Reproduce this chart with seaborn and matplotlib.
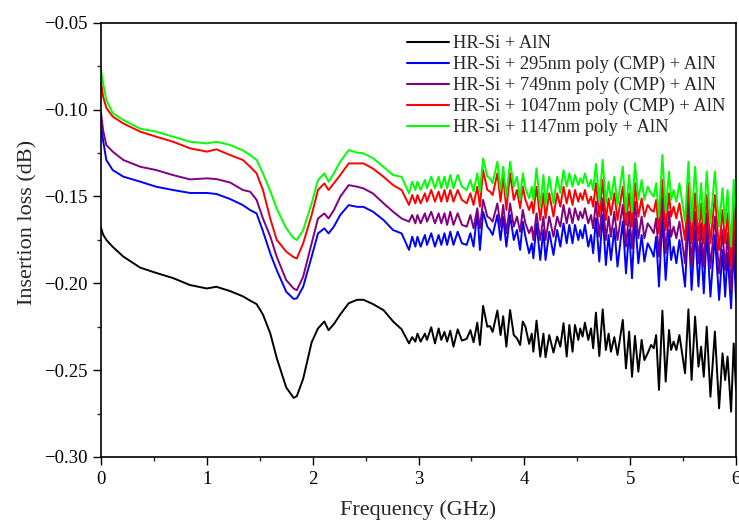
import numpy as np
import pandas as pd
import matplotlib
matplotlib.use("Agg")
import matplotlib.pyplot as plt
from matplotlib.ticker import MultipleLocator
import seaborn as sns

# Frequency samples (GHz)
freq = [0.0, 0.02, 0.05, 0.11, 0.21, 0.37, 0.52, 0.68, 0.84, 1.0, 1.09, 1.22, 1.34, 1.41, 1.47,
        1.53, 1.6, 1.66, 1.75, 1.82, 1.85, 1.91, 1.99, 2.05, 2.11, 2.15, 2.2, 2.26, 2.34, 2.42,
        2.48, 2.57, 2.67, 2.76, 2.84,
        2.91, 2.94, 2.97, 2.99, 3.02, 3.06, 3.08, 3.12, 3.155, 3.19, 3.215, 3.245, 3.27, 3.30,
        3.33, 3.37, 3.41, 3.455, 3.49, 3.52, 3.555, 3.58, 3.61, 3.65, 3.675, 3.70, 3.745, 3.775,
        3.80, 3.83, 3.865, 3.90, 3.93, 3.96, 3.985, 4.01, 4.045, 4.07, 4.085, 4.115, 4.15, 4.18,
        4.20, 4.235, 4.275, 4.31, 4.34,
        4.37, 4.40, 4.425, 4.455, 4.478, 4.51, 4.528, 4.55, 4.572, 4.604, 4.63, 4.65, 4.676,
        4.708, 4.74, 4.77, 4.796, 4.818, 4.85, 4.88, 4.93, 4.96, 4.99, 5.017, 5.045, 5.077,
        5.108, 5.134, 5.165, 5.197, 5.222, 5.245, 5.272, 5.304, 5.335, 5.367, 5.386, 5.41,
        5.436, 5.465, 5.518, 5.55, 5.58, 5.613, 5.645, 5.67, 5.695, 5.723, 5.758, 5.80, 5.84,
        5.872, 5.897, 5.92, 5.953, 5.978, 6.0]

il_black = [-0.168, -0.172, -0.175, -0.179, -0.1846, -0.191, -0.194, -0.197, -0.201, -0.203,
            -0.202, -0.2045, -0.2075, -0.210, -0.212, -0.218, -0.229, -0.243, -0.260, -0.266,
            -0.265, -0.255, -0.234, -0.226, -0.222, -0.227, -0.2235, -0.218, -0.2115, -0.2095,
            -0.2095, -0.212, -0.2155, -0.222, -0.2265,
            -0.2346, -0.231, -0.2336, -0.229, -0.2336, -0.229, -0.2326, -0.2253, -0.2346, -0.226,
            -0.2326, -0.228, -0.2336, -0.2273, -0.2365, -0.2265, -0.233, -0.232, -0.227, -0.234,
            -0.2227, -0.2355, -0.213, -0.225, -0.2246, -0.228, -0.2157, -0.2298, -0.219, -0.2365,
            -0.2154, -0.2298, -0.2317, -0.2355, -0.222, -0.225, -0.2349, -0.229, -0.2394, -0.2215,
            -0.2422, -0.229, -0.2426, -0.2298, -0.2399, -0.2307, -0.2365,
            -0.223, -0.2422, -0.224, -0.2394, -0.224, -0.2326, -0.226, -0.2307, -0.2227, -0.2326,
            -0.226, -0.2374, -0.2169, -0.2419, -0.215, -0.2384, -0.229, -0.2394, -0.231, -0.2413,
            -0.2211, -0.249, -0.2278, -0.2538, -0.2303, -0.2509, -0.2326, -0.2442, -0.2403,
            -0.2355, -0.2374, -0.2298, -0.2614, -0.2158, -0.2566, -0.2269, -0.2384, -0.2336,
            -0.2384, -0.2298, -0.2518, -0.215, -0.2557, -0.2192, -0.248, -0.2365, -0.2538, -0.225,
            -0.2653, -0.2278, -0.272, -0.2403, -0.2557, -0.2422, -0.2739, -0.2346, -0.2614]

il_295 = [-0.1089, -0.118, -0.129, -0.1348, -0.1386, -0.1415, -0.1444, -0.1463, -0.148, -0.148,
          -0.1486, -0.1515, -0.155, -0.1579, -0.1598, -0.170, -0.183, -0.1924, -0.2049, -0.209,
          -0.2087, -0.202, -0.1847, -0.1713, -0.1684, -0.1713, -0.1674, -0.1607, -0.155, -0.156,
          -0.156, -0.1588, -0.1636, -0.1694, -0.1713,
          -0.1808, -0.1732, -0.1789, -0.1732, -0.1789, -0.1722, -0.1779, -0.1712, -0.1789, -0.1722,
          -0.1779, -0.1712, -0.1779, -0.1703, -0.1779, -0.1703, -0.177, -0.1779, -0.1712, -0.1789,
          -0.1588, -0.1808, -0.1588, -0.1674, -0.1693, -0.1722, -0.1607, -0.1751, -0.1616, -0.1789,
          -0.1607, -0.1751, -0.1693, -0.1808, -0.1645, -0.1732, -0.1827, -0.177, -0.1856, -0.1655,
          -0.1866, -0.1693, -0.1866, -0.1703, -0.1837, -0.1693, -0.1789,
          -0.1655, -0.177, -0.1664, -0.177, -0.1664, -0.1751, -0.1693, -0.1741, -0.1664, -0.1789,
          -0.1722, -0.1827, -0.1626, -0.1875, -0.1607, -0.1895, -0.1722, -0.1866, -0.1684, -0.1904,
          -0.1645, -0.1943, -0.1693, -0.1971, -0.1626, -0.1885, -0.1722, -0.1875, -0.177,
          -0.1808, -0.1847, -0.1732, -0.2019, -0.1616, -0.1981, -0.1693, -0.1866, -0.1789,
          -0.1885, -0.1751, -0.2019, -0.1626, -0.2039, -0.1693, -0.2019, -0.177, -0.2058, -0.1703,
          -0.2077, -0.1722, -0.2096, -0.1808, -0.2077, -0.1827, -0.2144, -0.1789, -0.2096]

il_749 = [-0.102, -0.112, -0.1204, -0.1242, -0.129, -0.1329, -0.1348, -0.1377, -0.1402, -0.1396,
          -0.140, -0.142, -0.1463, -0.1473, -0.152, -0.1627, -0.1732, -0.1847, -0.1982, -0.203,
          -0.204, -0.1962, -0.177, -0.1627, -0.1598, -0.1627, -0.1579, -0.1502, -0.1435, -0.1444,
          -0.1454, -0.1483, -0.154, -0.1588, -0.1627,
          -0.1645, -0.1607, -0.1655, -0.1607, -0.1655, -0.1597, -0.1645, -0.1588, -0.1655, -0.1597,
          -0.1655, -0.1597, -0.1664, -0.1588, -0.1664, -0.1597, -0.1664, -0.1674, -0.1607, -0.1684,
          -0.1568, -0.1684, -0.152, -0.1616, -0.1626, -0.1645, -0.154, -0.1674, -0.1549, -0.1712,
          -0.154, -0.1674, -0.1616, -0.1703, -0.1578, -0.1655, -0.1712, -0.1674, -0.1751, -0.1597,
          -0.1751, -0.1616, -0.1751, -0.1616, -0.1732, -0.1616, -0.1674,
          -0.1549, -0.1655, -0.1568, -0.1655, -0.1568, -0.1636, -0.1588, -0.1626, -0.1568, -0.1655,
          -0.1607, -0.1684, -0.153, -0.1732, -0.1511, -0.1751, -0.1616, -0.1732, -0.1588, -0.1751,
          -0.1549, -0.1789, -0.1588, -0.1799, -0.153, -0.1741, -0.1616, -0.1741, -0.1655,
          -0.1684, -0.1712, -0.1626, -0.1847, -0.1511, -0.1827, -0.1588, -0.1732, -0.1674,
          -0.1741, -0.1645, -0.1885, -0.153, -0.1904, -0.1588, -0.1885, -0.1655, -0.1904, -0.1597,
          -0.1914, -0.1616, -0.1943, -0.1693, -0.1924, -0.1712, -0.2039, -0.1674, -0.1943]

il_1047 = [-0.084, -0.0926, -0.099, -0.104, -0.108, -0.1127, -0.1156, -0.1185, -0.1223, -0.1242,
           -0.1229, -0.1262, -0.129, -0.133, -0.1367, -0.1463, -0.163, -0.175, -0.1818, -0.185,
           -0.1857, -0.177, -0.1607, -0.1463, -0.1425, -0.1463, -0.1425, -0.1377, -0.131, -0.131,
           -0.131, -0.134, -0.1387, -0.1435, -0.1463,
           -0.1549, -0.1492, -0.154, -0.1492, -0.154, -0.1482, -0.153, -0.1463, -0.153, -0.1472,
           -0.153, -0.1463, -0.153, -0.1463, -0.153, -0.1463, -0.152, -0.154, -0.1482, -0.1549,
           -0.1444, -0.1559, -0.1348, -0.1463, -0.1472, -0.1492, -0.1367, -0.153, -0.1386, -0.1578,
           -0.1367, -0.152, -0.1463, -0.1568, -0.1444, -0.152, -0.1578, -0.153, -0.1597, -0.1444,
           -0.1636, -0.1482, -0.1626, -0.1482, -0.1616, -0.1482, -0.1559,
           -0.1444, -0.154, -0.1463, -0.1549, -0.1463, -0.153, -0.1482, -0.152, -0.1463, -0.154,
           -0.1501, -0.1559, -0.1424, -0.1616, -0.1405, -0.1636, -0.1511, -0.1607, -0.1482, -0.1636,
           -0.1444, -0.1664, -0.1482, -0.1674, -0.1424, -0.1616, -0.1511, -0.1616, -0.1549,
           -0.1578, -0.1588, -0.152, -0.1712, -0.1405, -0.1693, -0.1482, -0.1616, -0.1559,
           -0.1626, -0.154, -0.1751, -0.1424, -0.177, -0.1482, -0.1751, -0.154, -0.177, -0.1492,
           -0.177, -0.1492, -0.1808, -0.1578, -0.177, -0.1597, -0.1904, -0.154, -0.1808]

il_1147 = [-0.0772, -0.085, -0.0945, -0.102, -0.106, -0.111, -0.1127, -0.1156, -0.1185, -0.1195,
           -0.1185, -0.1204, -0.1235, -0.1262, -0.129, -0.1367, -0.147, -0.157, -0.1684, -0.174,
           -0.1751, -0.1694, -0.154, -0.1406, -0.1367, -0.1415, -0.1367, -0.130, -0.1233, -0.1248,
           -0.1252, -0.128, -0.133, -0.1377, -0.1387,
           -0.1482, -0.1415, -0.1463, -0.1415, -0.1463, -0.1405, -0.1453, -0.1386, -0.1453, -0.1386,
           -0.1453, -0.1386, -0.1453, -0.1376, -0.1453, -0.1376, -0.1444, -0.1463, -0.1405, -0.1472,
           -0.1367, -0.1472, -0.1281, -0.1386, -0.1396, -0.1424, -0.130, -0.1463, -0.1329, -0.1501,
           -0.130, -0.1444, -0.1386, -0.152, -0.1367, -0.1453, -0.1511, -0.1444, -0.152, -0.1338,
           -0.1559, -0.1376, -0.1549, -0.1386, -0.154, -0.1386, -0.1482,
           -0.1348, -0.1444, -0.1367, -0.1444, -0.1376, -0.1434, -0.1396, -0.1424, -0.1367, -0.1444,
           -0.1405, -0.1463, -0.1313, -0.153, -0.129, -0.154, -0.1415, -0.152, -0.1386, -0.1549,
           -0.1329, -0.1588, -0.1376, -0.1588, -0.1309, -0.152, -0.1405, -0.152, -0.1444,
           -0.1482, -0.1501, -0.1424, -0.1616, -0.1261, -0.1588, -0.1357, -0.152, -0.1463,
           -0.153, -0.1424, -0.1645, -0.130, -0.1645, -0.1329, -0.1636, -0.1424, -0.1655, -0.1357,
           -0.1655, -0.1357, -0.1674, -0.1453, -0.1655, -0.1463, -0.1789, -0.1405, -0.1655]

labels = ["HR-Si + AlN",
          "HR-Si + 295nm poly (CMP) + AlN",
          "HR-Si + 749nm poly (CMP) + AlN",
          "HR-Si + 1047nm poly (CMP) + AlN",
          "HR-Si + 1147nm poly + AlN"]
colors = ["#000000", "#0000FF", "#800080", "#FF0000", "#00FF00"]
series = [il_black, il_295, il_749, il_1047, il_1147]

frames = []
for lab, vals in zip(labels, series):
    frames.append(pd.DataFrame({"freq": freq, "il": vals, "sample": lab}))
df = pd.concat(frames, ignore_index=True)

sns.set_theme(style="ticks")
plt.rcParams["font.family"] = ["Liberation Serif", "DejaVu Serif"]
plt.rcParams["axes.unicode_minus"] = True

fig = plt.figure(figsize=(7.39, 5.20), dpi=100)
ax = fig.add_axes([0.1367, 0.1212, 0.8593, 0.8351])

sns.lineplot(data=df, x="freq", y="il", hue="sample", hue_order=labels,
             palette=dict(zip(labels, colors)), estimator=None, sort=False,
             linewidth=1.4, ax=ax)

ax.set_xlim(0, 6)
ax.set_ylim(-0.30, -0.05)
ax.xaxis.set_major_locator(MultipleLocator(1))
ax.xaxis.set_minor_locator(MultipleLocator(0.5))
ax.yaxis.set_major_locator(MultipleLocator(0.05))
ax.yaxis.set_minor_locator(MultipleLocator(0.025))
ax.yaxis.set_major_formatter(matplotlib.ticker.FuncFormatter(lambda v, p: f"{v:.2f}".replace("-", "\u2212")))
ax.tick_params(axis="both", which="major", direction="out", length=6, width=1.0,
               labelsize=13.5, colors="black", top=False, right=False, pad=4)
ax.tick_params(axis="both", which="minor", direction="out", length=3, width=1.0,
               top=False, right=False)
for s in ax.spines.values():
    s.set_visible(True)
    s.set_linewidth(1.2)
    s.set_color("black")

ax.set_xlabel("Frequency (GHz)", fontsize=16, labelpad=9)
ax.set_ylabel("Insertion loss (dB)", fontsize=16)
ax.yaxis.set_label_coords(-0.100, 0.54)

leg = ax.legend(loc="upper left", frameon=False, fontsize=13.3, handlelength=2.3,
                handletextpad=0.2, labelspacing=0.2, borderaxespad=0.0,
                bbox_to_anchor=(0.470, 0.988))
for line in leg.get_lines():
    line.set_linewidth(1.5)

fig.savefig("out.png", dpi=100)
